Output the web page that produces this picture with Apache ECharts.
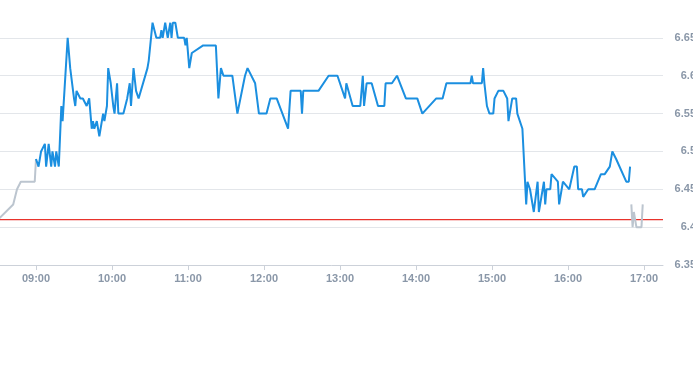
<!DOCTYPE html>
<html>
<head>
<meta charset="utf-8">
<script src="https://cdn.jsdelivr.net/npm/echarts@6/dist/echarts.min.js"></script>
<style>html,body{margin:0;padding:0;background:#fff;}#c{width:693px;height:365px;}</style>
</head>
<body>
<div id="c"></div>
<script>
// Pre-market (grey)
const preTimes = ['08:30','08:42','08:45','08:48','08:59','09:00'];
const preValues = [6.41,6.43,6.45,6.46,6.46,6.49];
// Regular session (blue)
const mainTimes = ['09:00','09:02','09:04','09:05','09:07','09:08','09:10','09:12','09:13','09:15','09:16','09:18','09:20','09:21','09:22','09:25','09:27','09:28','09:30','09:31','09:32','09:35','09:37','09:40','09:42','09:43','09:44','09:45','09:46','09:48','09:49','09:50','09:52','09:53','09:54','09:56','09:57','09:59','10:01','10:02','10:04','10:05','10:09','10:12','10:14','10:15','10:17','10:19','10:21','10:28','10:29','10:32','10:35','10:38','10:39','10:40','10:42','10:44','10:46','10:47','10:48','10:50','10:52','10:57','10:58','10:59','11:01','11:03','11:12','11:22','11:24','11:26','11:28','11:35','11:39','11:45','11:47','11:53','11:56','12:02','12:05','12:10','12:19','12:21','12:29','12:30','12:31','12:43','12:51','12:58','13:04','13:05','13:10','13:16','13:18','13:19','13:21','13:25','13:30','13:35','13:36','13:41','13:45','13:52','14:01','14:05','14:16','14:21','14:24','14:43','14:44','14:45','14:52','14:53','14:54','14:56','14:58','15:01','15:02','15:05','15:09','15:12','15:13','15:16','15:19','15:20','15:24','15:27','15:28','15:30','15:31','15:33','15:36','15:37','15:39','15:41','15:42','15:43','15:46','15:47','15:52','15:53','15:56','16:01','16:05','16:07','16:08','16:11','16:12','16:16','16:21','16:26','16:29','16:33','16:35','16:38','16:46','16:48','16:49'];
const mainValues = [6.49,6.48,6.50,6.50,6.51,6.48,6.51,6.48,6.50,6.48,6.50,6.48,6.56,6.54,6.54,6.65,6.61,6.61,6.57,6.56,6.58,6.57,6.57,6.56,6.57,6.55,6.53,6.54,6.53,6.54,6.53,6.52,6.54,6.55,6.54,6.56,6.61,6.59,6.56,6.55,6.59,6.55,6.55,6.57,6.59,6.56,6.61,6.58,6.57,6.61,6.62,6.67,6.65,6.65,6.66,6.65,6.67,6.65,6.67,6.65,6.67,6.67,6.65,6.65,6.64,6.65,6.61,6.63,6.64,6.64,6.57,6.61,6.60,6.60,6.55,6.60,6.61,6.59,6.55,6.55,6.57,6.57,6.53,6.58,6.58,6.55,6.58,6.58,6.60,6.60,6.57,6.59,6.56,6.56,6.60,6.56,6.59,6.59,6.56,6.56,6.59,6.59,6.60,6.57,6.57,6.55,6.57,6.57,6.59,6.59,6.60,6.59,6.59,6.61,6.59,6.56,6.55,6.55,6.57,6.58,6.58,6.57,6.54,6.57,6.57,6.55,6.53,6.43,6.46,6.45,6.45,6.42,6.46,6.42,6.44,6.46,6.43,6.45,6.45,6.47,6.46,6.43,6.46,6.45,6.48,6.48,6.45,6.45,6.44,6.45,6.45,6.47,6.47,6.48,6.50,6.49,6.46,6.46,6.48];
// After-hours (grey)
const postTimes = ['16:50','16:51','16:52','16:54','16:58','16:59'];
const postValues = [6.43,6.40,6.42,6.40,6.40,6.43];
// Reference (previous close) line
const refPrice = 6.41;
// Axis ranges
const xStart = '08:30', xEnd = '17:15';
const yMin = 6.35, yMax = 6.70, yStep = 0.05;

function ts(hm){const p=hm.split(':');return new Date(2024,0,2,+p[0],+p[1]).getTime();}
function pairs(t,v){return t.map((x,i)=>[ts(x),v[i]]);}

const chart = echarts.init(document.getElementById('c'), null, {renderer:'canvas'});
const labelColor = '#8a97a8';
chart.setOption({
  animation:false,
  grid:{left:-2,right:30,top:0,bottom:100,containLabel:false,outerBoundsMode:'none'},
  xAxis:{
    type:'time', min:ts(xStart), max:ts(xEnd),
    minInterval:3600000, maxInterval:3600000,
    axisLine:{lineStyle:{color:'#ccd1d9'}},
    axisTick:{show:true,length:5,lineStyle:{color:'#ccd1d9'}},
    splitLine:{show:false},
    axisLabel:{color:labelColor,fontWeight:'bold',fontSize:11,fontFamily:'Arial, Liberation Sans, sans-serif',margin:8,
      formatter:function(v){const d=new Date(v);return String(d.getHours()).padStart(2,'0')+':'+String(d.getMinutes()).padStart(2,'0');},
      hideOverlap:false}
  },
  yAxis:{
    type:'value', position:'right', min:yMin, max:yMax, interval:yStep,
    axisLine:{show:false}, axisTick:{show:false},
    splitLine:{showMaxLine:false,showMinLine:false,lineStyle:{color:'#e3e6ea'}},
    axisLabel:{color:labelColor,fontWeight:'bold',fontSize:11,fontFamily:'Arial, Liberation Sans, sans-serif',
      align:'right',margin:33,showMaxLabel:false,
      formatter:function(v){return String(+v.toFixed(2));}}
  },
  series:[
    {type:'line',data:[[ts(xStart),refPrice],[ts(xEnd),refPrice]],showSymbol:false,silent:true,z:1,
      lineStyle:{color:'#e8332c',width:1.3},itemStyle:{color:'#e8332c'}},
    {type:'line',data:pairs(preTimes,preValues),showSymbol:false,z:2,lineStyle:{color:'#bcc5cf',width:2},itemStyle:{color:'#bcc5cf'}},
    {type:'line',data:pairs(mainTimes,mainValues),showSymbol:false,z:3,lineStyle:{color:'#1b8fe0',width:2},itemStyle:{color:'#1b8fe0'}},
    {type:'line',data:pairs(postTimes,postValues),showSymbol:false,z:2,lineStyle:{color:'#bcc5cf',width:2},itemStyle:{color:'#bcc5cf'}}
  ]
});
</script>
</body>
</html>
